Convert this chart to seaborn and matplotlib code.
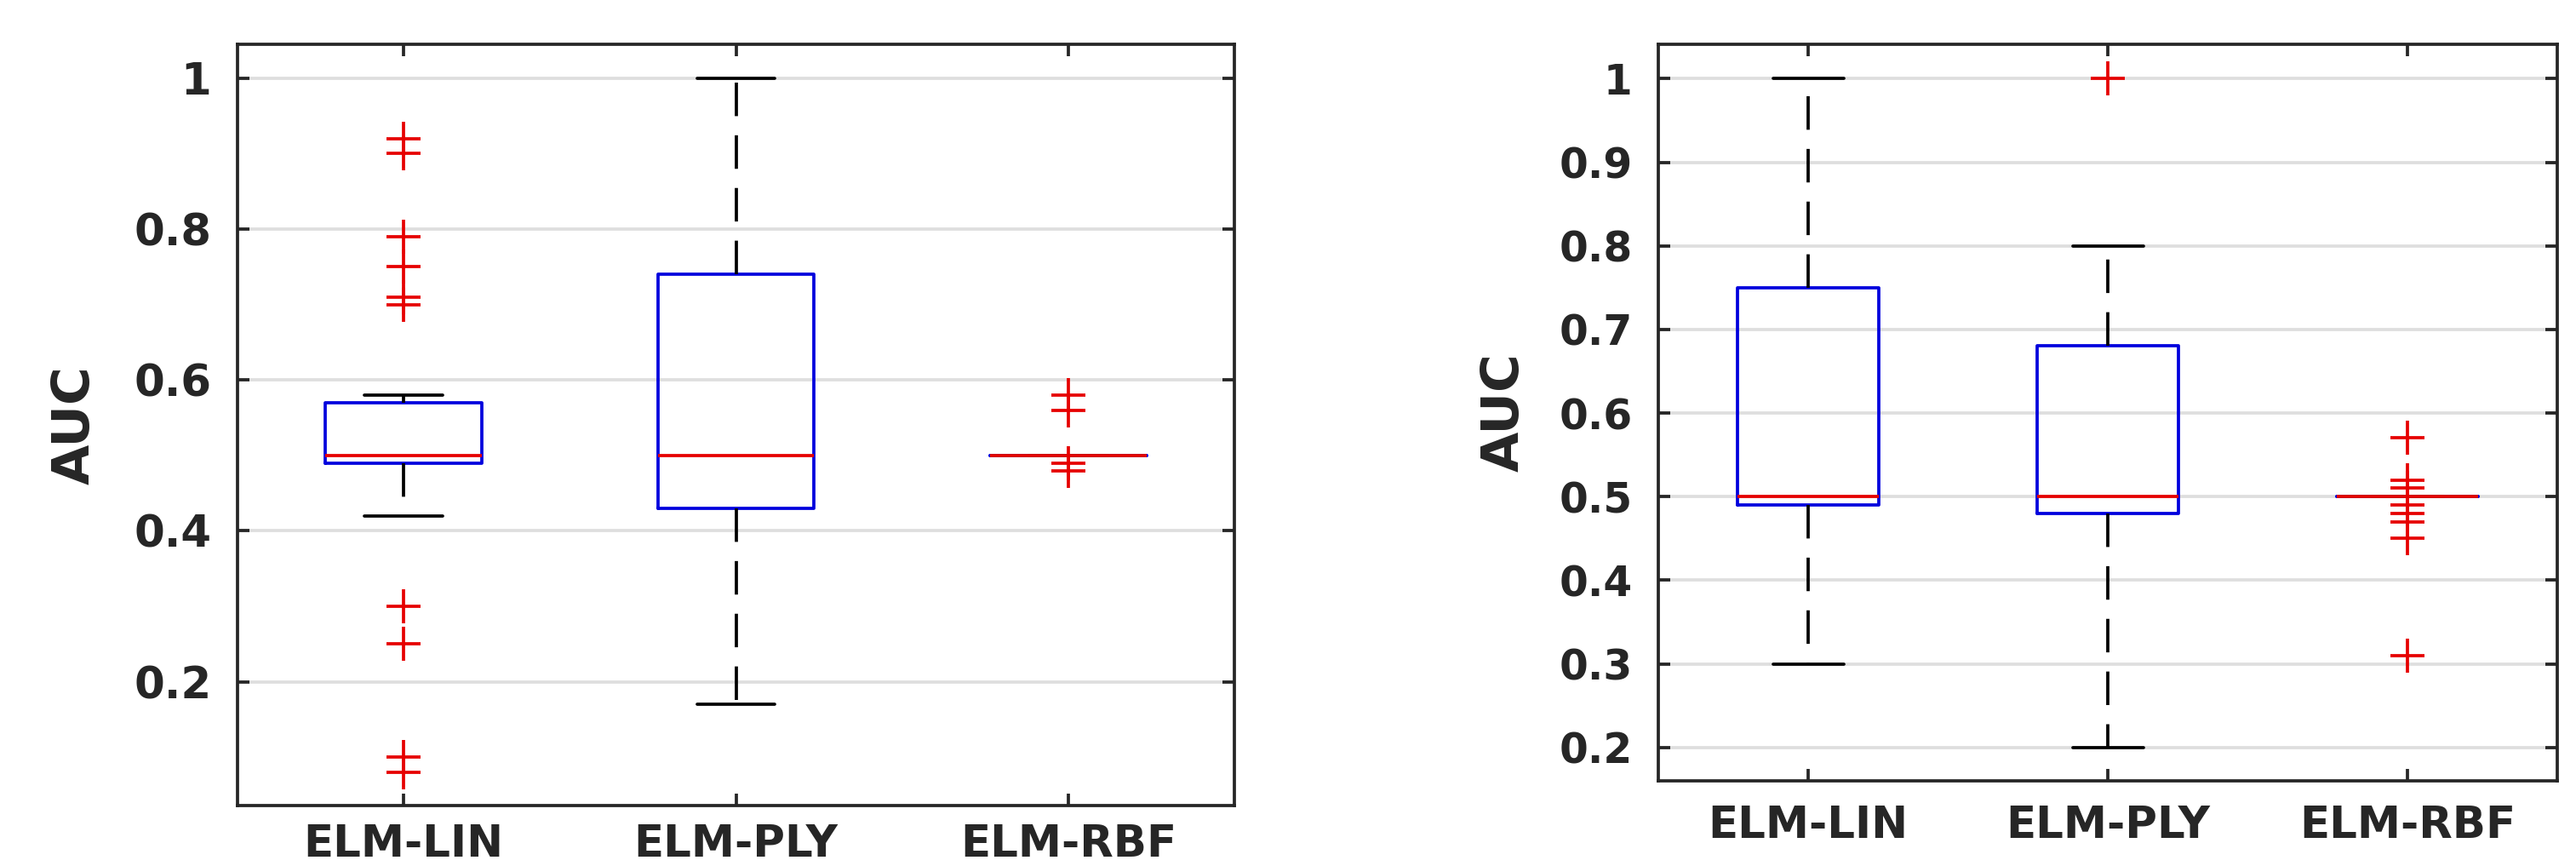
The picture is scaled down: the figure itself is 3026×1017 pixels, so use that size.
import numpy as np
import pandas as pd
import seaborn as sns
import matplotlib.pyplot as plt

models = ["ELM-LIN", "ELM-PLY", "ELM-RBF"]

left_lin = [0.08, 0.10, 0.25, 0.30, 0.42, 0.45, 0.48, 0.49, 0.49, 0.50,
            0.50, 0.50, 0.50, 0.50, 0.50, 0.51, 0.53, 0.54, 0.55, 0.56,
            0.57, 0.57, 0.58, 0.70, 0.71, 0.75, 0.79, 0.90, 0.92]
left_ply = [0.17, 0.22, 0.30, 0.35, 0.38, 0.40, 0.42, 0.43, 0.45, 0.47,
            0.48, 0.50, 0.50, 0.50, 0.50, 0.52, 0.55, 0.60, 0.64, 0.68,
            0.72, 0.74, 0.77, 0.80, 0.83, 0.87, 0.91, 0.95, 1.00]
left_rbf = [0.48, 0.49, 0.50, 0.50, 0.50, 0.50, 0.50, 0.50, 0.50, 0.50,
            0.50, 0.50, 0.50, 0.50, 0.50, 0.50, 0.50, 0.50, 0.50, 0.50,
            0.50, 0.50, 0.50, 0.50, 0.50, 0.50, 0.50, 0.56, 0.58]

# right panel
right_lin = [0.30, 0.35, 0.40, 0.44, 0.47, 0.49, 0.49, 0.50, 0.50, 0.50,
             0.50, 0.55, 0.60, 0.65, 0.70, 0.75, 0.80, 0.85, 0.90, 0.95, 1.00]
right_ply = [0.20, 0.30, 0.38, 0.43, 0.46, 0.48, 0.49, 0.50, 0.50, 0.50,
             0.50, 0.53, 0.57, 0.61, 0.65, 0.68, 0.71, 0.74, 0.77, 0.80, 1.00]
right_rbf = [0.31, 0.45, 0.47, 0.48, 0.49, 0.50, 0.50, 0.50, 0.50, 0.50,
             0.50, 0.50, 0.50, 0.50, 0.50, 0.50, 0.50, 0.50, 0.51, 0.52, 0.57]

left_ticks = [0.2, 0.4, 0.6, 0.8, 1.0]
left_ticklabels = ["0.2", "0.4", "0.6", "0.8", "1"]
right_ticks = [0.2, 0.3, 0.4, 0.5, 0.6, 0.7, 0.8, 0.9, 1.0]
right_ticklabels = ["0.2", "0.3", "0.4", "0.5", "0.6", "0.7", "0.8", "0.9", "1"]


def to_long(groups):
    return pd.DataFrame({
        "model": np.repeat(models, [len(g) for g in groups]),
        "AUC": np.concatenate(groups),
    })


sns.set_theme(style="white")
plt.rcParams["font.family"] = ["DejaVu Sans"]
plt.rcParams["font.weight"] = "bold"
plt.rcParams["axes.labelweight"] = "bold"

dark = "#262626"
lw = 2.7

fig = plt.figure(figsize=(30.26, 10.17), dpi=100)
ax1 = fig.add_axes([0.0922, 0.0698, 0.3870, 0.8791])
ax2 = fig.add_axes([0.6438, 0.0983, 0.3490, 0.8505])


def draw_panel(ax, df, ticks, ticklabels, ylim, ytick_fs, xtick_fs, xpad, label_x):
    sns.boxplot(data=df, x="model", y="AUC", order=models, ax=ax,
                width=0.47, whis=1.5, fill=False, color="#0000ff", linewidth=lw,
                boxprops=dict(color="#0000dd"),
                medianprops=dict(color="#e60000"),
                whiskerprops=dict(color="black", linestyle=(0, (10.5, 6))),
                capprops=dict(color="black"),
                flierprops=dict(marker="+", markeredgecolor="#e60000",
                                markersize=29, markeredgewidth=lw))
    ax.set_xlim(-0.5, 2.5)
    ax.set_ylim(*ylim)
    ax.set_yticks(ticks)
    ax.set_yticklabels(ticklabels)
    ax.set_xlabel("")
    ax.set_ylabel("AUC", fontsize=44, color=dark)
    ax.yaxis.set_label_coords(label_x, 0.5)
    ax.yaxis.grid(True, color="#dedede", linewidth=lw)
    ax.set_axisbelow(True)
    for sp in ax.spines.values():
        sp.set_visible(True)
        sp.set_color(dark)
        sp.set_linewidth(lw)
    ax.tick_params(axis="both", direction="in", length=10, width=lw, color=dark,
                   labelcolor=dark, top=True, right=True, bottom=True, left=True)
    ax.tick_params(axis="y", labelsize=ytick_fs, pad=22)
    ax.tick_params(axis="x", labelsize=xtick_fs, pad=xpad)


draw_panel(ax1, to_long([left_lin, left_ply, left_rbf]), left_ticks, left_ticklabels,
           (0.036, 1.045), 37, 37, 15, -0.138)
draw_panel(ax2, to_long([right_lin, right_ply, right_rbf]), right_ticks, right_ticklabels,
           (0.16, 1.041), 35, 37, 20, -0.143)

fig.savefig("out.png", dpi=100)
